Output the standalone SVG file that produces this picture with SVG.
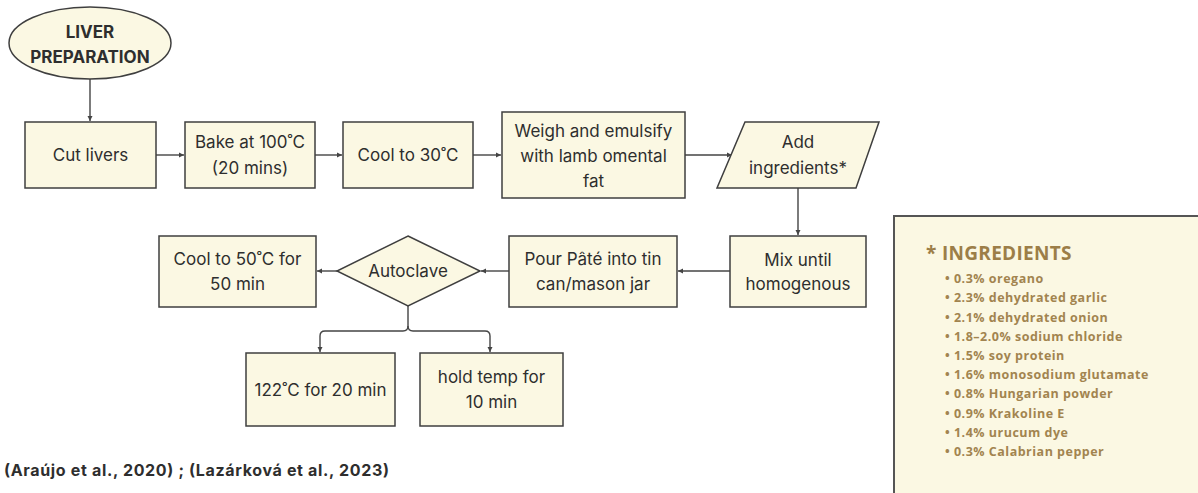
<svg xmlns="http://www.w3.org/2000/svg" width="1198" height="493" viewBox="0 0 1198 493">
<style>
.box{fill:#FBF8E3;stroke:#3f3f3f;stroke-width:1.5}
.t{font-family:Inter,"Liberation Sans",sans-serif;font-size:17px;fill:#2e2e2e;text-anchor:middle}
.b{font-weight:bold}
.c{fill:none;stroke:#444;stroke-width:1.4}
.ing{font-family:"Open Sans","Noto Sans",sans-serif;font-weight:bold;fill:#A2844F;font-size:12.5px;letter-spacing:0.5px}
</style>
<defs>
<marker id="ah" markerWidth="6" markerHeight="6" refX="5" refY="3" orient="auto" markerUnits="userSpaceOnUse">
<path d="M0,0.5 L5,3 L0,5.5 Z" fill="#444"/>
</marker>
</defs>
<rect width="1198" height="493" fill="#fff"/>
<g id="connectors">
<path class="c" d="M90,79 V121" marker-end="url(#ah)"/>
<path class="c" d="M156,155 H184" marker-end="url(#ah)"/>
<path class="c" d="M315,155 H342" marker-end="url(#ah)"/>
<path class="c" d="M473,155 H501" marker-end="url(#ah)"/>
<path class="c" d="M685,155 H732" marker-end="url(#ah)"/>
<path class="c" d="M798,188 V235" marker-end="url(#ah)"/>
<path class="c" d="M730,271 H678" marker-end="url(#ah)"/>
<path class="c" d="M509,271 H481" marker-end="url(#ah)"/>
<path class="c" d="M337,271 H317" marker-end="url(#ah)"/>
<path class="c" d="M408,306 V326 Q408,331 403,331 H325 Q320,331 320,336 V352" marker-end="url(#ah)"/>
<path class="c" d="M408,326 Q408,331 413,331 H485 Q490,331 490,336 V352" marker-end="url(#ah)"/>
</g>
<g id="liver-prep">
<ellipse class="box" cx="90" cy="43" rx="81" ry="36"/>
<text class="t b" x="90" y="38">LIVER</text>
<text class="t b" x="90" y="63">PREPARATION</text>
</g>
<g id="cut-livers">
<rect class="box" x="25" y="122" width="131" height="66"/>
<text class="t" x="90.5" y="161">Cut livers</text>
</g>
<g id="bake">
<rect class="box" x="185" y="122" width="130" height="66"/>
<text class="t" x="250" y="148">Bake at 100˚C</text>
<text class="t" x="250" y="174">(20 mins)</text>
</g>
<g id="cool30">
<rect class="box" x="343" y="122" width="130" height="66"/>
<text class="t" x="408" y="161">Cool to 30˚C</text>
</g>
<g id="weigh">
<rect class="box" x="502" y="112" width="183" height="86"/>
<text class="t" x="593.5" y="137">Weigh and emulsify</text>
<text class="t" x="593.5" y="162">with lamb omental</text>
<text class="t" x="593.5" y="187">fat</text>
</g>
<g id="add-ingredients">
<polygon class="box" points="745,122 879,122 856,188 717,188"/>
<text class="t" x="798" y="148">Add</text>
<text class="t" x="798" y="174">ingredients*</text>
</g>
<g id="mix">
<rect class="box" x="730" y="236" width="136" height="71"/>
<text class="t" x="798" y="266">Mix until</text>
<text class="t" x="798" y="290">homogenous</text>
</g>
<g id="pour">
<rect class="box" x="509" y="236" width="168" height="71"/>
<text class="t" x="593" y="265">Pour Pâté into tin</text>
<text class="t" x="593" y="290">can/mason jar</text>
</g>
<g id="autoclave">
<polygon class="box" points="408,236 480,271 408,306 337,271"/>
<text class="t" x="408" y="277">Autoclave</text>
</g>
<g id="cool50">
<rect class="box" x="159" y="236" width="157" height="71"/>
<text class="t" x="237.5" y="265">Cool to 50˚C for</text>
<text class="t" x="237.5" y="290">50 min</text>
</g>
<g id="temp122">
<rect class="box" x="246" y="353" width="149" height="73"/>
<text class="t" x="320.5" y="396">122˚C for 20 min</text>
</g>
<g id="hold">
<rect class="box" x="420" y="353" width="143" height="73"/>
<text class="t" x="491.5" y="383">hold temp for</text>
<text class="t" x="491.5" y="408">10 min</text>
</g>
<g id="ingredients-panel">
<rect x="894" y="216" width="310" height="290" fill="#FBF8E3" stroke="#555" stroke-width="2"/>
<text x="926" y="260" font-family="'Open Sans','Noto Sans',sans-serif" font-weight="bold" font-size="19" letter-spacing="0.3" fill="#9C7E48">* INGREDIENTS</text>
<g class="ing">
<text x="945" y="283">• 0.3% oregano</text>
<text x="945" y="302">• 2.3% dehydrated garlic</text>
<text x="945" y="321.5">• 2.1% dehydrated onion</text>
<text x="945" y="340.5">• 1.8–2.0% sodium chloride</text>
<text x="945" y="360">• 1.5% soy protein</text>
<text x="945" y="379">• 1.6% monosodium glutamate</text>
<text x="945" y="398">• 0.8% Hungarian powder</text>
<text x="945" y="417.5">• 0.9% Krakoline E</text>
<text x="945" y="436.5">• 1.4% urucum dye</text>
<text x="945" y="456">• 0.3% Calabrian pepper</text>
</g>
</g>
<g id="citation">
<text x="4" y="476" font-family="Inter,'Liberation Sans',sans-serif" font-weight="bold" font-size="16" textLength="385" lengthAdjust="spacing" fill="#2e2e2e">(Araújo et al., 2020) ; (Lazárková et al., 2023)</text>
</g>
</svg>
